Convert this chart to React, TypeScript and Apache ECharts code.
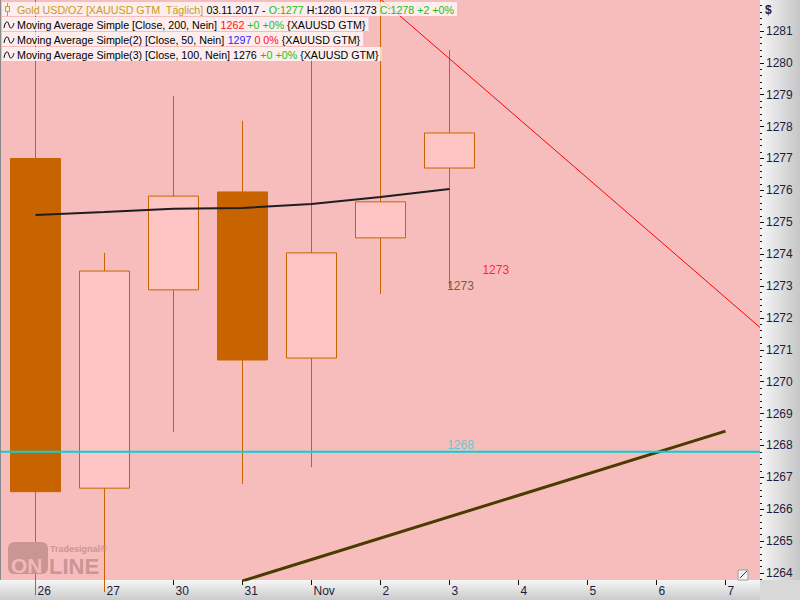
import React, { useEffect, useRef } from "react";
import * as echarts from "echarts";

const categories = ["26", "27", "30", "31", "Nov", "2", "3", "4", "5", "6", "7"];
// [open, close, low, high]
const candles = [
  [1277.0, 1266.55, 1263.3, 1282.6],
  [1266.66, 1273.47, 1263.4, 1274.04],
  [1272.88, 1275.82, 1268.42, 1278.96],
  [1275.95, 1270.68, 1266.79, 1278.18],
  [1270.74, 1274.04, 1267.32, 1280.09],
  [1274.51, 1275.64, 1272.75, 1282.3],
  [1276.7, 1277.8, 1272.94, 1280.4],
];
const ma100 = [1275.23, 1275.32, 1275.42, 1275.45, 1275.57, 1275.79, 1276.04];
const redTrend = [[5, 1282.0], [10.5, 1271.7]];
const oliveTrend = [[3, 1263.75], [10, 1268.45]];
const supportLevel = 1267.8;
const yTickLabels = [1264, 1265, 1266, 1267, 1268, 1269, 1270, 1271, 1272, 1273, 1274, 1275, 1276, 1277, 1278, 1279, 1280, 1281];
const yMin = 1263.78;
const yMax = 1281.97;
const priceLabels = [
  { name: "1273", value: [6.67, 1273.5], color: "#FF0000" },
  { name: "1273", value: [6.16, 1273.0], color: "#4E4326" },
  { name: "1268", value: [6.16, 1268.0], color: "#3CC8D2" },
];
const legendRows = [
  "{gold|Gold USD/OZ [XAUUSD GTM  Täglich]} 03.11.2017 - {g|O:1277} H:1280 L:1273 {g|C:1278 +2 +0%}",
  "Moving Average Simple [Close, 200, Nein] {r|1262} {g|+0 +0%} {XAUUSD GTM}",
  "Moving Average Simple(2) [Close, 50, Nein] {b|1297} {r|0 0%} {XAUUSD GTM}",
  "Moving Average Simple(3) [Close, 100, Nein] 1276 {g|+0 +0%} {XAUUSD GTM}",
];

const FONT = "'Liberation Sans', Arial, sans-serif";
const LF = `10.7px ${FONT}`;

export default function App() {
  const ref = useRef<HTMLDivElement>(null);
  useEffect(() => {
    const chart = echarts.init(ref.current!, null, { renderer: "svg" });
    const minorTicks: number[] = [];
    for (let i = 1264 * 5 - 1; i <= 1281 * 5 + 4; i++) {
      if (i % 5 !== 0) minorTicks.push(i / 5);
    }
    const graphics: any[] = [
      {
        type: "rect", z: -10, shape: { x: 760, y: 0, width: 40, height: 580 },
        style: { fill: new echarts.graphic.LinearGradient(0, 0, 1, 0, [{ offset: 0, color: "#f7f7f7" }, { offset: 1, color: "#c6c6c6" }]) },
      },
      {
        type: "rect", z: -10, shape: { x: 0, y: 580, width: 760, height: 20 },
        style: { fill: new echarts.graphic.LinearGradient(0, 0, 0, 1, [{ offset: 0, color: "#f6f6f6" }, { offset: 1, color: "#cbcbcb" }]) },
      },
      { type: "rect", z: -10, shape: { x: 760, y: 580, width: 40, height: 20 }, style: { fill: "#d8d8d8" } },
      { type: "rect", z: 50, shape: { x: 0, y: 0, width: 1, height: 580 }, style: { fill: "#8a8a8a" } },
      { type: "text", z: 50, x: 765, y: 4, style: { text: "$", fill: "#1c1c3c", font: `bold 12px ${FONT}` } },
      { type: "rect", z: 50, shape: { x: 738, y: 570, width: 10, height: 10 }, style: { fill: "#f4f4f4", stroke: "#9a9a9a", lineWidth: 1 } },
      { type: "line", z: 51, shape: { x1: 740, y1: 578, x2: 747, y2: 571 }, style: { stroke: "#333", lineWidth: 1 } },
      // watermark logo
      { type: "rect", z: 40, shape: { x: 8, y: 542, width: 40, height: 32, r: 6 }, style: { fill: "#C99595" } },
      { type: "text", z: 41, x: 11, y: 555, style: { text: "ON", fill: "#F3B8B8", font: `bold 21px ${FONT}` } },
      { type: "text", z: 41, x: 49, y: 555, style: { text: "LINE", fill: "#C99595", font: `bold 22px ${FONT}` } },
      { type: "text", z: 41, x: 50, y: 544, style: { text: "Tradesignal®", fill: "#C99595", font: `bold 9px ${FONT}` } },
    ];
    legendRows.forEach((row, i) => {
      const y = 2 + i * 15;
      graphics.push({
        type: "text", z: 90, x: 2, y,
        style: {
          text: row, fill: "#000", font: LF,
          backgroundColor: "rgba(255,255,255,0.72)",
          padding: [2, 3, 1, 15],
          rich: {
            gold: { fill: "#C89A1E", font: LF },
            g: { fill: "#18C018", font: LF },
            r: { fill: "#FF1010", font: LF },
            b: { fill: "#2828FF", font: LF },
          },
        },
      });
      if (i === 0) {
        graphics.push({ type: "line", z: 91, shape: { x1: 7.5, y1: y + 1, x2: 7.5, y2: y + 14 }, style: { stroke: "#C89A1E", lineWidth: 1 } });
        graphics.push({ type: "rect", z: 92, shape: { x: 5.5, y: y + 4.5, width: 4, height: 5 }, style: { fill: "#FDEBEB", stroke: "#C89A1E", lineWidth: 1 } });
      } else {
        graphics.push({
          type: "polyline", z: 91,
          shape: { points: [[4, y + 11], [5.5, y + 6], [7.5, y + 5], [9, y + 8], [10.5, y + 11], [12.5, y + 10], [14, y + 6]], smooth: 0.4 },
          style: { stroke: "#000", lineWidth: 1, fill: null },
        });
      }
    });

    chart.setOption({
      animation: false,
      backgroundColor: "#d8d8d8",
      textStyle: { fontFamily: FONT },
      grid: { left: 1, right: 40, top: 0, bottom: 20, show: true, backgroundColor: "#F7BDBD", borderWidth: 0 },
      xAxis: [
        {
          type: "category", data: categories, boundaryGap: true,
          axisLine: { show: false, onZero: false },
          axisTick: { show: true, alignWithLabel: true, length: 5, lineStyle: { color: "#111" } },
          axisLabel: { interval: 0, align: "left", margin: 5, padding: [0, 0, 0, 2], color: "#1c1c3c", fontSize: 12, fontFamily: FONT },
          splitLine: { show: false },
        },
        { type: "value", min: -0.5, max: 10.5, show: false, axisLine: { onZero: false } },
      ],
      yAxis: [
        {
          type: "value", position: "right", min: yMin, max: yMax, scale: true,
          axisLine: { show: false, onZero: false },
          splitLine: { show: false },
          axisTick: { show: true, length: 4, customValues: yTickLabels, lineStyle: { color: "#111" } },
          axisLabel: { customValues: yTickLabels, formatter: (v: number) => String(v), margin: 6, color: "#1c1c3c", fontSize: 12, fontFamily: FONT },
        },
        {
          type: "value", position: "right", min: yMin, max: yMax, scale: true,
          axisLine: { show: false, onZero: false }, splitLine: { show: false },
          axisTick: { show: true, length: 2, customValues: minorTicks, lineStyle: { color: "#111" } },
          axisLabel: { show: false, customValues: minorTicks },
        },
      ],
      series: [
        {
          type: "candlestick", xAxisIndex: 0, yAxisIndex: 0, data: candles, barWidth: 50, clip: true, z: 2,
          itemStyle: { color: "#FFC4C4", color0: "#C86400", borderColor: "#C86400", borderColor0: "#C86400", borderWidth: 1 },
        },
        {
          type: "line", xAxisIndex: 1, yAxisIndex: 0, data: oliveTrend, symbol: "none", z: 3,
          lineStyle: { color: "#4A3C00", width: 3 },
        },
        {
          type: "line", xAxisIndex: 1, yAxisIndex: 0, data: [[-0.5, supportLevel], [10.5, supportLevel]], symbol: "none", z: 4,
          lineStyle: { color: "#00D4DA", width: 2 },
        },
        {
          type: "line", xAxisIndex: 1, yAxisIndex: 0, data: redTrend, symbol: "none", z: 4,
          lineStyle: { color: "#FF0000", width: 1 },
        },
        {
          type: "line", xAxisIndex: 0, yAxisIndex: 0, data: ma100, symbol: "none", z: 5,
          lineStyle: { color: "#1E1E1E", width: 2 },
        },
        {
          type: "scatter", xAxisIndex: 1, yAxisIndex: 0, symbolSize: 0, z: 6,
          data: priceLabels.map((p) => ({ name: p.name, value: p.value, label: { color: p.color } })),
          label: { show: true, position: "inside", formatter: "{b}", fontSize: 12, fontFamily: FONT },
        },
      ],
      graphic: graphics,
    });
    return () => chart.dispose();
  }, []);
  return <div ref={ref} style={{ position: "absolute", left: 0, top: 0, width: 800, height: 600 }} />;
}
